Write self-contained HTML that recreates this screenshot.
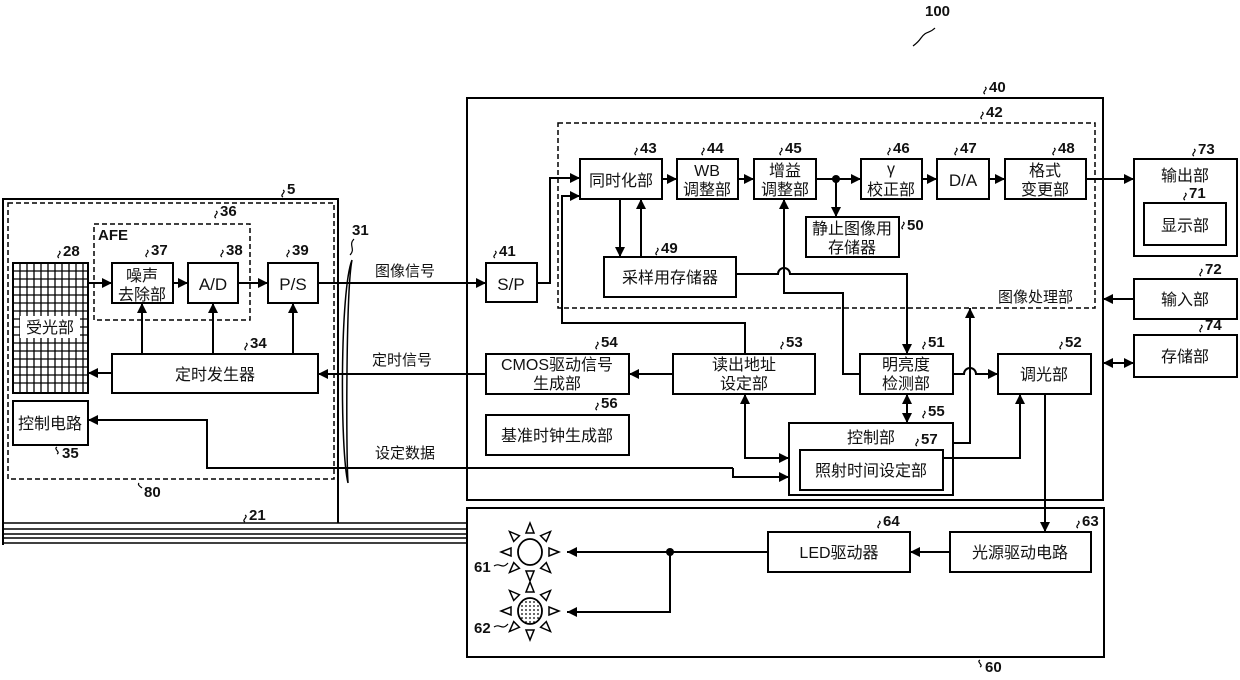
<!DOCTYPE html>
<html><head><meta charset="utf-8"><style>
html,body{margin:0;padding:0;background:#fff;}
svg{display:block;}
text{font-family:"Liberation Sans","Noto Sans CJK SC",sans-serif;fill:#111;}
.c{font-size:16px;text-anchor:middle;}
.n{font-size:15px;font-weight:bold;}
</style></head><body>
<svg width="1240" height="680" viewBox="0 0 1240 680" xmlns="http://www.w3.org/2000/svg">
<defs>
<marker id="a" viewBox="0 0 10 10" refX="10" refY="5" markerWidth="10" markerHeight="10" markerUnits="userSpaceOnUse" orient="auto"><path d="M0,0 L10,5 L0,10 z" fill="#000"/></marker>
<marker id="s" viewBox="0 0 10 10" refX="0" refY="5" markerWidth="10" markerHeight="10" markerUnits="userSpaceOnUse" orient="auto"><path d="M10,0 L0,5 L10,10 z" fill="#000"/></marker>
<pattern id="dots" width="4" height="4" patternUnits="userSpaceOnUse"><circle cx="2" cy="2" r="0.9" fill="#000"/></pattern>
<path id="ray" d="M-4,-19 h8 l-4,-10z" fill="#fff" stroke="#000" stroke-width="1.5"/>
</defs>
<g fill="none" stroke="#000" stroke-width="2">
<path d="M3,545 V199 H338 V523"/>
<path d="M3,523 H468 M3,529 H468 M3,534 H468 M3,538 H468 M3,543 H468" stroke-width="1.5"/>
<rect x="8" y="203" width="326" height="276" stroke-dasharray="5,3" stroke-width="1.5"/>
<rect x="94" y="224" width="156" height="96" stroke-dasharray="5,3" stroke-width="1.5"/>
<rect x="13" y="263" width="75" height="130"/>
<rect x="112" y="263" width="61" height="40"/>
<rect x="188" y="263" width="50" height="40"/>
<rect x="268" y="263" width="50" height="40"/>
<rect x="112" y="354" width="206" height="39"/>
<rect x="13" y="401" width="75" height="44"/>
<path d="M352,260 C340,290 340,450 348,483 M352,260 C346,290 346,450 348,483" stroke-width="1.5"/>
<rect x="467" y="98" width="636" height="402"/>
<rect x="558" y="123" width="537" height="185" stroke-dasharray="5,3" stroke-width="1.5"/>
<rect x="486" y="263" width="51" height="39"/>
<rect x="580" y="159" width="82" height="40"/>
<rect x="677" y="159" width="61" height="40"/>
<rect x="754" y="159" width="62" height="40"/>
<rect x="861" y="159" width="61" height="40"/>
<rect x="937" y="159" width="52" height="40"/>
<rect x="1005" y="159" width="81" height="40"/>
<rect x="806" y="217" width="93" height="40"/>
<rect x="604" y="257" width="132" height="40"/>
<rect x="486" y="354" width="143" height="40"/>
<rect x="673" y="354" width="142" height="40"/>
<rect x="860" y="354" width="93" height="40"/>
<rect x="998" y="354" width="93" height="40"/>
<rect x="486" y="415" width="143" height="40"/>
<rect x="789" y="423" width="164" height="72"/>
<rect x="800" y="450" width="143" height="40"/>
<rect x="1134" y="159" width="103" height="97"/>
<rect x="1144" y="203" width="82" height="42"/>
<rect x="1134" y="279" width="103" height="40"/>
<rect x="1134" y="335" width="103" height="42"/>
<rect x="467" y="508" width="637" height="149"/>
<rect x="768" y="532" width="142" height="40"/>
<rect x="950" y="532" width="141" height="40"/>
</g>
<g stroke="#000" stroke-width="1.3">
<path d="M20,263V393M27,263V393M34,263V393M41,263V393M48,263V393M55,263V393M62,263V393M69,263V393M76,263V393M83,263V393"/>
<path d="M13,271H88M13,279H88M13,287H88M13,295H88M13,303H88M13,311H88M13,319H88M13,327H88M13,335H88M13,343H88M13,351H88M13,359H88M13,367H88M13,375H88M13,383H88"/>
</g>
<rect x="20" y="316" width="60" height="22" fill="#fff"/>
<g fill="none" stroke="#000" stroke-width="2">
<path d="M88,283H112" marker-end="url(#a)"/>
<path d="M173,283H188" marker-end="url(#a)"/>
<path d="M238,283H268" marker-end="url(#a)"/>
<path d="M318,283H486" marker-end="url(#a)"/>
<path d="M142,354V303" marker-end="url(#a)"/>
<path d="M213,354V303" marker-end="url(#a)"/>
<path d="M293,354V303" marker-end="url(#a)"/>
<path d="M112,373H88" marker-end="url(#a)"/>
<path d="M486,374H318" marker-end="url(#a)"/>
<path d="M673,374H629" marker-end="url(#a)"/>
<path d="M733,468H207V420H88" marker-end="url(#a)"/>
<path d="M733,468V477H789" marker-end="url(#a)"/>
<path d="M537,283H550V178H580" marker-end="url(#a)"/>
<path d="M745,354V323H562V196H580" marker-end="url(#a)"/>
<path d="M662,179H677" marker-end="url(#a)"/>
<path d="M738,179H754" marker-end="url(#a)"/>
<path d="M816,179H861" marker-end="url(#a)"/>
<path d="M922,179H937" marker-end="url(#a)"/>
<path d="M989,179H1005" marker-end="url(#a)"/>
<path d="M1086,179H1134" marker-end="url(#a)"/>
<path d="M836,179V217" marker-end="url(#a)"/>
<path d="M620,199V257" marker-end="url(#a)"/>
<path d="M641,257V199" marker-end="url(#a)"/>
<path d="M736,274H778A6,6 0 0 1 790,274H907V354" marker-end="url(#a)"/>
<path d="M860,374H843V293H784V199" marker-end="url(#a)"/>
<path d="M907,394V423" marker-end="url(#a)" marker-start="url(#s)"/>
<path d="M953,374H964A6,6 0 0 1 976,374H998" marker-end="url(#a)"/>
<path d="M953,443H970V308" marker-end="url(#a)"/>
<path d="M745,394V458H789" marker-end="url(#a)" marker-start="url(#s)"/>
<path d="M943,458H1020V394" marker-end="url(#a)"/>
<path d="M1045,394V532" marker-end="url(#a)"/>
<path d="M1134,299H1103" marker-end="url(#a)"/>
<path d="M1103,363H1134" marker-end="url(#a)" marker-start="url(#s)"/>
<path d="M950,552H910" marker-end="url(#a)"/>
<path d="M768,552H567" marker-end="url(#a)"/>
<path d="M670,552V612H567" marker-end="url(#a)"/>
</g>
<circle cx="836" cy="179" r="4" fill="#000"/>
<circle cx="670" cy="552" r="4" fill="#000"/>
<g stroke="#000" stroke-width="1.8">
<ellipse cx="530" cy="552" rx="12" ry="13" fill="#fff"/>
<ellipse cx="530" cy="611" rx="12" ry="13" fill="url(#dots)"/>
</g>
<g transform="translate(530,552)">
<use href="#ray"/><use href="#ray" transform="rotate(45)"/><use href="#ray" transform="rotate(90)"/><use href="#ray" transform="rotate(135)"/><use href="#ray" transform="rotate(180)"/><use href="#ray" transform="rotate(225)"/><use href="#ray" transform="rotate(270)"/><use href="#ray" transform="rotate(315)"/>
</g>
<g transform="translate(530,611)">
<use href="#ray"/><use href="#ray" transform="rotate(45)"/><use href="#ray" transform="rotate(90)"/><use href="#ray" transform="rotate(135)"/><use href="#ray" transform="rotate(180)"/><use href="#ray" transform="rotate(225)"/><use href="#ray" transform="rotate(270)"/><use href="#ray" transform="rotate(315)"/>
</g>
<text class="c" x="50" y="333">受光部</text>
<text class="c" x="142" y="281">噪声</text>
<text class="c" x="142" y="300">去除部</text>
<text class="c" x="213" y="290" style="font-size:17px">A/D</text>
<text class="c" x="293" y="290" style="font-size:17px">P/S</text>
<text x="98" y="240" style="font-size:15px;font-weight:bold">AFE</text>
<text class="c" x="215" y="380">定时发生器</text>
<text class="c" x="50" y="429">控制电路</text>
<text class="c" x="511" y="290" style="font-size:17px">S/P</text>
<text class="c" x="621" y="186">同时化部</text>
<text class="c" x="707" y="176">WB</text>
<text class="c" x="707" y="195">调整部</text>
<text class="c" x="785" y="176">增益</text>
<text class="c" x="785" y="195">调整部</text>
<text class="c" x="891" y="174">γ</text>
<text class="c" x="891" y="195">校正部</text>
<text class="c" x="963" y="186" style="font-size:17px">D/A</text>
<text class="c" x="1045" y="176">格式</text>
<text class="c" x="1045" y="195">变更部</text>
<text class="c" x="852" y="234">静止图像用</text>
<text class="c" x="852" y="253">存储器</text>
<text class="c" x="670" y="283">采样用存储器</text>
<text x="998" y="302" style="font-size:15px">图像处理部</text>
<text class="c" x="557" y="370">CMOS驱动信号</text>
<text class="c" x="557" y="389">生成部</text>
<text class="c" x="744" y="370">读出地址</text>
<text class="c" x="744" y="389">设定部</text>
<text class="c" x="906" y="370">明亮度</text>
<text class="c" x="906" y="389">检测部</text>
<text class="c" x="1044" y="380">调光部</text>
<text class="c" x="557" y="441">基准时钟生成部</text>
<text class="c" x="871" y="443">控制部</text>
<text class="c" x="871" y="476">照射时间设定部</text>
<text class="c" x="1185" y="181">输出部</text>
<text class="c" x="1185" y="231">显示部</text>
<text class="c" x="1185" y="305">输入部</text>
<text class="c" x="1185" y="362">存储部</text>
<text class="c" x="839" y="558">LED驱动器</text>
<text class="c" x="1020" y="558">光源驱动电路</text>
<text x="375" y="276" style="font-size:15px">图像信号</text>
<text x="372" y="365" style="font-size:15px">定时信号</text>
<text x="375" y="458" style="font-size:15px">设定数据</text>
<g fill="none" stroke="#000" stroke-width="1.2">
<path d="M283,197c-4,-2 4,-5 0,-7"/><path d="M216,218c-4,-2 4,-5 0,-7"/>
<path d="M59,258c-4,-2 4,-5 0,-7"/><path d="M147,257c-4,-2 4,-5 0,-7"/>
<path d="M222,257c-4,-2 4,-5 0,-7"/><path d="M288,257c-4,-2 4,-5 0,-7"/>
<path d="M246,350c-4,-2 4,-5 0,-7"/><path d="M57,447c-4,2 4,5 0,7"/>
<path d="M139,483c-2,2 2,4 3,5"/><path d="M245,522c-4,-2 4,-5 0,-7"/>
<path d="M350,255c6,-6 -2,-10 4,-16"/>
<path d="M495,258c-4,-2 4,-5 0,-7"/><path d="M636,155c-4,-2 4,-5 0,-7"/>
<path d="M703,155c-4,-2 4,-5 0,-7"/><path d="M781,155c-4,-2 4,-5 0,-7"/>
<path d="M889,155c-4,-2 4,-5 0,-7"/><path d="M956,155c-4,-2 4,-5 0,-7"/>
<path d="M1054,155c-4,-2 4,-5 0,-7"/><path d="M903,229c-4,-2 4,-5 0,-7"/>
<path d="M657,255c-4,-2 4,-5 0,-7"/><path d="M597,349c-4,-2 4,-5 0,-7"/>
<path d="M782,349c-4,-2 4,-5 0,-7"/><path d="M924,349c-4,-2 4,-5 0,-7"/>
<path d="M1061,349c-4,-2 4,-5 0,-7"/><path d="M597,410c-4,-2 4,-5 0,-7"/>
<path d="M924,418c-4,-2 4,-5 0,-7"/><path d="M917,446c-4,-2 4,-5 0,-7"/>
<path d="M985,94c-4,-2 4,-5 0,-7"/><path d="M982,119c-4,-2 4,-5 0,-7"/>
<path d="M1194,156c-4,-2 4,-5 0,-7"/><path d="M1185,200c-4,-2 4,-5 0,-7"/>
<path d="M1201,276c-4,-2 4,-5 0,-7"/><path d="M1201,332c-4,-2 4,-5 0,-7"/>
<path d="M879,528c-4,-2 4,-5 0,-7"/><path d="M1078,528c-4,-2 4,-5 0,-7"/>
<path d="M980,660c-4,2 4,5 0,7"/>
<path d="M494,566c6,-4 8,4 14,-3"/><path d="M494,627c6,-4 8,4 14,-3"/>
<path d="M935,28c-6,6 -8,2 -14,10c-2,3 -4,5 -8,8"/>
</g>
<g>
<text class="n" x="287" y="194">5</text><text class="n" x="220" y="216">36</text>
<text class="n" x="63" y="256">28</text><text class="n" x="151" y="255">37</text>
<text class="n" x="226" y="255">38</text><text class="n" x="292" y="255">39</text>
<text class="n" x="250" y="348">34</text><text class="n" x="62" y="458">35</text>
<text class="n" x="144" y="497">80</text><text class="n" x="249" y="520">21</text>
<text class="n" x="352" y="235">31</text>
<text class="n" x="499" y="256">41</text><text class="n" x="640" y="153">43</text>
<text class="n" x="707" y="153">44</text><text class="n" x="785" y="153">45</text>
<text class="n" x="893" y="153">46</text><text class="n" x="960" y="153">47</text>
<text class="n" x="1058" y="153">48</text><text class="n" x="907" y="230">50</text>
<text class="n" x="661" y="253">49</text><text class="n" x="601" y="347">54</text>
<text class="n" x="786" y="347">53</text><text class="n" x="928" y="347">51</text>
<text class="n" x="1065" y="347">52</text><text class="n" x="601" y="408">56</text>
<text class="n" x="928" y="416">55</text><text class="n" x="921" y="444">57</text>
<text class="n" x="989" y="92">40</text><text class="n" x="986" y="117">42</text>
<text class="n" x="1198" y="154">73</text><text class="n" x="1189" y="198">71</text>
<text class="n" x="1205" y="274">72</text><text class="n" x="1205" y="330">74</text>
<text class="n" x="883" y="526">64</text><text class="n" x="1082" y="526">63</text>
<text class="n" x="985" y="672">60</text>
<text class="n" x="474" y="572">61</text><text class="n" x="474" y="633">62</text>
<text class="n" x="925" y="16">100</text>
</g>
</svg>
</body></html>
